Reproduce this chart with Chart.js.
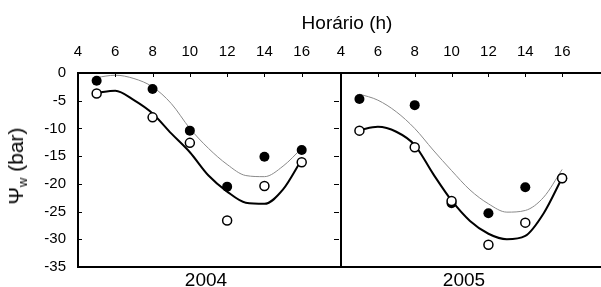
<!DOCTYPE html>
<html>
<head>
<meta charset="utf-8">
<script src="https://cdn.jsdelivr.net/npm/chart.js@4.4.1/dist/chart.umd.min.js"></script>
<style>
    html, body { margin: 0; padding: 0; background: #fff; overflow: hidden; }
    #wrap { position: relative; width: 601px; height: 287px; overflow: hidden; font-family: "Liberation Sans", Arial, sans-serif; color: #000; }
    #c2004 { position: absolute; left: 0; top: 0; }
    #c2005 { position: absolute; left: 335px; top: 0; }
    .lbl { position: absolute; white-space: nowrap; text-align: center; }
    #title { left: 247px; top: 13px; width: 200px; font-size: 19px; line-height: 19px; }
    #ylab { left: 19px; top: 166px; font-size: 21px; line-height: 21px; transform: translate(-50%, -50%) rotate(-90deg); }
    #ylab sub { font-size: 13px; vertical-align: -4px; }
    #y2004 { left: 156px; top: 270px; width: 100px; font-size: 19px; line-height: 19px; }
    #y2005 { left: 414px; top: 270px; width: 100px; font-size: 19px; line-height: 19px; }
</style>
</head>
<body>
<div id="wrap">
    <canvas id="c2004" width="345" height="287"></canvas>
    <canvas id="c2005" width="270" height="287"></canvas>
    <div class="lbl" id="title">Horário (h)</div>
    <div class="lbl" id="ylab">Ψ<sub>w</sub> (bar)</div>
    <div class="lbl" id="y2004">2004</div>
    <div class="lbl" id="y2005">2005</div>
</div>
<script>
// measured hours
const hours = [5, 8, 10, 12, 14, 16];
const filled2004 = [-1.4, -2.9, -10.4, -20.5, -15.1, -13.9];
const open2004 = [-3.7, -8.0, -12.6, -26.6, -20.4, -16.1];
const filled2005 = [-4.7, -5.8, -23.5, -25.3, -20.6, -19.0];
const open2005 = [-10.4, -13.4, -23.1, -31.0, -27.0, -19.0];

// fitted curves
const fitHours = [5, 6, 7, 8, 9, 10, 11, 12, 13, 14, 15, 16];
const fitFilled2004 = [-0.8, -0.4, -1.0, -2.5, -5.5, -10.0, -13.6, -16.5, -18.5, -18.7, -16.8, -13.6];
const fitOpen2004 = [-3.6, -3.2, -4.9, -7.3, -10.9, -14.3, -18.5, -21.4, -23.4, -23.6, -21.0, -15.6];
const fitFilled2005 = [-3.8, -4.9, -7.0, -10.0, -13.9, -17.6, -21.1, -23.6, -25.1, -24.8, -22.4, -17.4];
const fitOpen2005 = [-10.3, -9.7, -10.6, -13.0, -18.2, -23.0, -26.7, -29.0, -30.0, -29.4, -25.3, -18.9];

const xTicks = [4, 6, 8, 10, 12, 14, 16];
const yTicks = [0, -5, -10, -15, -20, -25, -30, -35];

const pts = (xs, ys) => xs.map((x, i) => ({ x: x, y: ys[i] }));

// frame and inward tick marks
const framePlugin = {
    id: 'frame',
    afterDraw(chart, args, opts) {
        const { ctx, chartArea: a, scales } = chart;
        ctx.save();
        ctx.strokeStyle = '#000';
        ctx.lineWidth = 2;
        ctx.beginPath();
        ctx.moveTo(a.left, a.bottom); ctx.lineTo(a.left, a.top - 1); 
        ctx.moveTo(a.left - 1, a.top); ctx.lineTo(a.right + 2, a.top);
        ctx.moveTo(a.left - 1, a.bottom); ctx.lineTo(a.right + 2, a.bottom);
        ctx.stroke();
        ctx.lineWidth = 1;
        ctx.beginPath();
        xTicks.forEach(v => {
            const px = Math.round(scales.x.getPixelForValue(v)) + 0.5;
            ctx.moveTo(px, a.top); ctx.lineTo(px, a.top + 4);
        });
        if (opts.yTicks) {
            yTicks.forEach(v => {
                const py = Math.round(scales.y.getPixelForValue(v)) + 0.5;
                ctx.moveTo(a.left, py); ctx.lineTo(a.left + 4, py);
                ctx.moveTo(a.right, py); ctx.lineTo(a.right - 5, py);
            });
        }
        ctx.stroke();
        ctx.restore();
    }
};

const makeChart = (id, filled, open, fitFilled, fitOpen, isLeft) => {
    new Chart(document.getElementById(id), {
        type: 'scatter',
        data: {
            datasets: [
                {
                    data: pts(hours, open),
                    pointRadius: 4.5,
                    pointBorderWidth: 1.5,
                    pointBackgroundColor: '#fff',
                    pointBorderColor: '#000',
                    order: 1
                },
                {
                    data: pts(hours, filled),
                    pointRadius: 5,
                    pointBorderWidth: 0,
                    pointBackgroundColor: '#000',
                    pointBorderColor: '#000',
                    order: 2
                },
                {
                    type: 'line',
                    data: pts(fitHours, fitOpen),
                    borderColor: '#000',
                    borderWidth: 2,
                    pointRadius: 0,
                    cubicInterpolationMode: 'monotone',
                    order: 3
                },
                {
                    type: 'line',
                    data: pts(fitHours, fitFilled),
                    borderColor: '#8a8a8a',
                    borderWidth: 1,
                    pointRadius: 0,
                    cubicInterpolationMode: 'monotone',
                    order: 4
                }
            ]
        },
        options: {
            responsive: false,
            animation: false,
            events: [],
            layout: { padding: isLeft ? { left: 0, right: 5, top: 0, bottom: 20 } : { left: 5, right: 1, top: 0, bottom: 20 } },
            plugins: {
                legend: { display: false },
                tooltip: { enabled: false },
                frame: { yTicks: isLeft }
            },
            scales: {
                x: {
                    type: 'linear',
                    position: 'top',
                    min: 4,
                    max: 18,
                    afterBuildTicks: s => { s.ticks = xTicks.map(v => ({ value: v })); },
                    afterFit: s => { s.height = 73; s.paddingLeft = 0; s.paddingRight = 0; },
                    grid: { display: false, drawTicks: false },
                    border: { display: false },
                    ticks: { color: '#000', padding: 12, maxRotation: 0, font: { family: 'Liberation Sans', size: 15 } }
                },
                y: {
                    display: isLeft,
                    min: -35,
                    max: 0,
                    afterBuildTicks: s => { s.ticks = yTicks.map(v => ({ value: v })); },
                    afterFit: s => { s.width = isLeft ? 78 : 0; s.paddingTop = 0; s.paddingBottom = 0; },
                    grid: { display: false, drawTicks: false },
                    border: { display: false },
                    ticks: { color: '#000', padding: 12, font: { family: 'Liberation Sans', size: 15 } }
                }
            }
        },
        plugins: [framePlugin]
    });
};

makeChart('c2004', filled2004, open2004, fitFilled2004, fitOpen2004, true);
makeChart('c2005', filled2005, open2005, fitFilled2005, fitOpen2005, false);
</script>
</body>
</html>
